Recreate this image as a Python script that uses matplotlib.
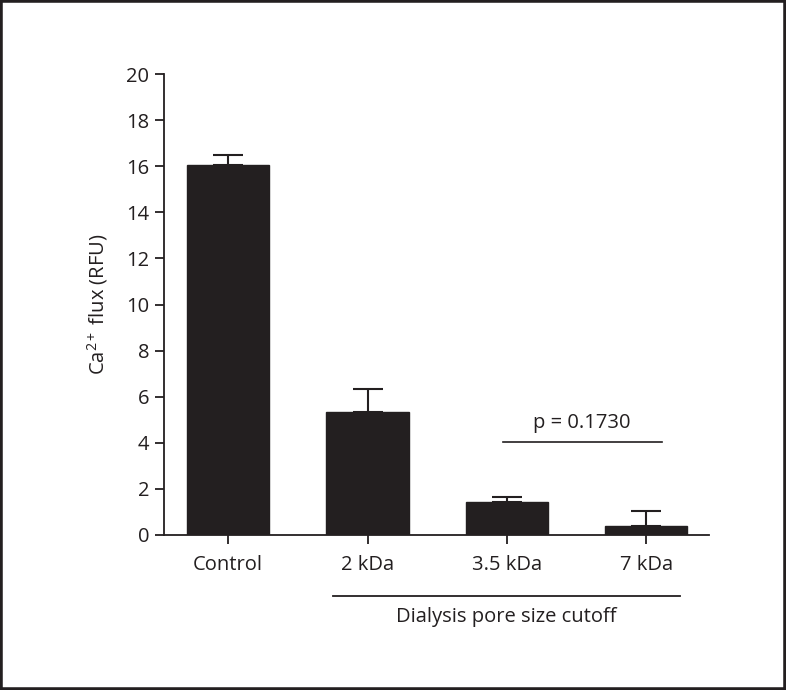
import matplotlib
matplotlib.use("Agg")
import matplotlib.pyplot as plt
from matplotlib.patches import Rectangle
import matplotlib.transforms as mtransforms

plt.rcParams['font.family'] = ['Open Sans', 'DejaVu Sans']
plt.rcParams['mathtext.fontset'] = 'custom'
plt.rcParams['mathtext.rm'] = 'Open Sans'
plt.rcParams['mathtext.it'] = 'Open Sans:italic'
plt.rcParams['mathtext.bf'] = 'Open Sans:bold'

categories = ["Control", "2 kDa", "3.5 kDa", "7 kDa"]
values = [16.05, 5.34, 1.45, 0.39]
errors = [0.44, 0.99, 0.21, 0.66]
y_ticks = [0, 2, 4, 6, 8, 10, 12, 14, 16, 18, 20]
p_text = "p = 0.1730"
group_text = "Dialysis pore size cutoff"

dark = "#231f20"
fs = 14.5
fig = plt.figure(figsize=(7.86, 6.9), dpi=100)
ax = fig.add_axes([164/786, 1-535/690, (709-164)/786, (535-74)/690])

x = list(range(len(categories)))
ax.bar(x, values, width=0.59, color=dark, edgecolor=dark, linewidth=1, zorder=2)
ax.errorbar(x, values, yerr=[[0]*len(errors), errors], fmt='none', ecolor=dark,
            elinewidth=1.5, capsize=11, capthick=1.5, zorder=3)

ax.set_xlim(-0.46, 3.45)
ax.set_ylim(0, 20)
ax.set_yticks(y_ticks)
ax.set_xticks(x)
ax.set_xticklabels(categories)
for s in ['top', 'right']:
    ax.spines[s].set_visible(False)
for s in ['left', 'bottom']:
    ax.spines[s].set_color(dark)
    ax.spines[s].set_linewidth(1.3)
ax.tick_params(axis='both', length=6.5, width=1.3, color=dark, labelsize=fs, labelcolor=dark)
ax.tick_params(axis='x', pad=8)
ax.tick_params(axis='y', pad=4)
ax.set_ylabel("Ca$^{2+}$ flux (RFU)", fontsize=fs, color=dark, labelpad=12)

# p-value bracket
ax.plot([1.97, 3.11], [4.02, 4.02], color=dark, lw=1.2, zorder=3)
ax.text(2.54, 4.87, p_text, ha='center', va='center', fontsize=fs, color=dark)

# group line below axis
trans = mtransforms.blended_transform_factory(ax.transData, ax.transAxes)
ax.plot([0.754, 3.24], [-0.132, -0.132], color=dark, lw=1.3, transform=trans, clip_on=False)
ax.text(1.997, -0.178, group_text, ha='center', va='center', fontsize=fs, color=dark, transform=trans)

fig.add_artist(Rectangle((0, 0), 1, 1, transform=fig.transFigure, fill=False,
                         edgecolor=dark, linewidth=4))

fig.savefig("out.png", dpi=100)
